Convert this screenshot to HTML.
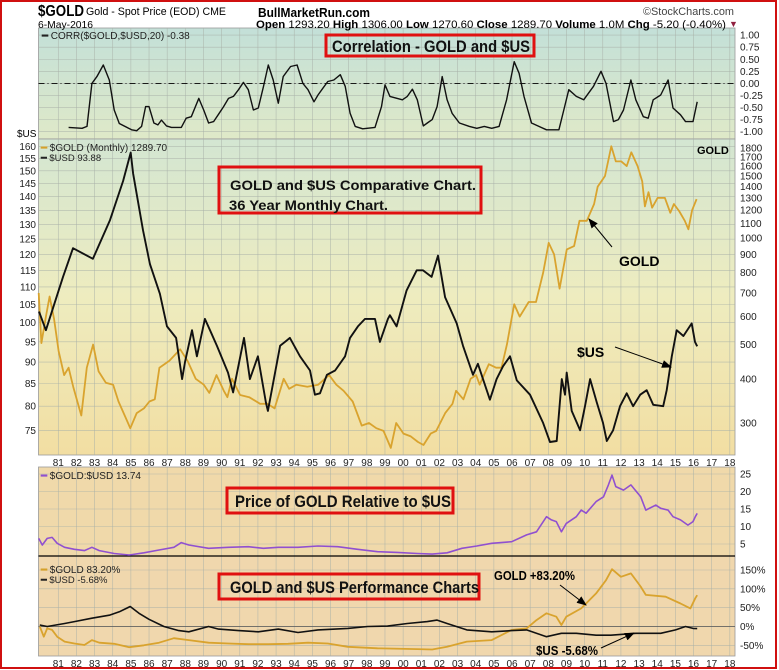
<!DOCTYPE html>
<html><head><meta charset="utf-8"><title>GOLD vs USD</title>
<style>
html,body{margin:0;padding:0;background:#fff;}
svg{display:block;font-family:"Liberation Sans",Arial,sans-serif;}
</style></head>
<body>
<svg id="chart" width="779" height="670" viewBox="0 0 779 670" xmlns="http://www.w3.org/2000/svg">
<defs>
<linearGradient id="gCorr" x1="0" y1="0" x2="0" y2="1"><stop offset="0" stop-color="#c3e0d8"/><stop offset="1" stop-color="#dfe9c8"/></linearGradient>
<linearGradient id="gMain" x1="0" y1="0" x2="0" y2="1"><stop offset="0" stop-color="#d3e6d2"/><stop offset="0.5" stop-color="#eeecbf"/><stop offset="1" stop-color="#f2dea2"/></linearGradient>
<marker id="ah" markerWidth="10" markerHeight="8" refX="9" refY="4" orient="auto"><path d="M0,0 L10,4 L0,8 z" fill="#000"/></marker>
</defs>
<rect x="0" y="0" width="779" height="670" fill="#fff"/>
<g id="bg"></g>
<g id="grid"></g>
<g id="series"></g>
<g id="axes"></g>
<rect x="1" y="1" width="775" height="667" fill="none" stroke="#d01010" stroke-width="2"/>

<text x="38" y="16" font-size="16" font-weight="bold" textLength="46" lengthAdjust="spacingAndGlyphs">$GOLD</text>
<text x="86" y="15" font-size="11" textLength="140" lengthAdjust="spacingAndGlyphs">Gold - Spot Price (EOD) CME</text>
<text x="38" y="28" font-size="10.5" textLength="55" lengthAdjust="spacingAndGlyphs">6-May-2016</text>
<text x="258" y="17" font-size="13" font-weight="bold" textLength="112" lengthAdjust="spacingAndGlyphs">BullMarketRun.com</text>
<text x="256" y="28" font-size="11" textLength="470" lengthAdjust="spacingAndGlyphs"><tspan font-weight="bold">Open</tspan> 1293.20 <tspan font-weight="bold">High</tspan> 1306.00 <tspan font-weight="bold">Low</tspan> 1270.60 <tspan font-weight="bold">Close</tspan> 1289.70 <tspan font-weight="bold">Volume</tspan> 1.0M <tspan font-weight="bold">Chg</tspan> -5.20 (-0.40%)</text>
<text x="729" y="27" font-size="9" fill="#902040">▼</text>
<text x="643" y="15" font-size="11" fill="#444" textLength="91" lengthAdjust="spacingAndGlyphs">©StockCharts.com</text>

<text x="42" y="39" font-size="10" fill="#222"><tspan font-weight="bold">━</tspan> CORR($GOLD,$USD,20) -0.38</text>
<text x="17" y="137" font-size="10">$US</text>
<text x="41" y="151" font-size="10" fill="#222"><tspan fill="#d4a02a" font-weight="bold">━</tspan> $GOLD (Monthly) 1289.70</text>
<text x="41" y="161" font-size="9.5" fill="#222"><tspan font-weight="bold">━</tspan> $USD 93.88</text>
<text x="697" y="154" font-size="11" font-weight="bold">GOLD</text>
<text x="41" y="479" font-size="10" fill="#222"><tspan fill="#9050d0" font-weight="bold">━</tspan> $GOLD:$USD 13.74</text>
<text x="41" y="573" font-size="10" fill="#222"><tspan fill="#d4a02a" font-weight="bold">━</tspan> $GOLD 83.20%</text>
<text x="41" y="583" font-size="9.5" fill="#222"><tspan font-weight="bold">━</tspan> $USD -5.68%</text>

<g>
<rect x="326" y="35" width="208" height="21" fill="none" stroke="#e01010" stroke-width="3"/>
<text x="332" y="52" font-size="17" font-weight="bold" fill="#111" textLength="198" lengthAdjust="spacingAndGlyphs">Correlation - GOLD and $US</text>
</g>
<g>
<rect x="219" y="167" width="262" height="46" fill="none" stroke="#e01010" stroke-width="3"/>
<text x="230" y="190" font-size="14" font-weight="bold" fill="#111" textLength="246" lengthAdjust="spacingAndGlyphs">GOLD and $US Comparative Chart.</text>
<text x="229" y="210" font-size="14" font-weight="bold" fill="#111" textLength="159" lengthAdjust="spacingAndGlyphs">36 Year Monthly Chart.</text>
</g>
<text x="619" y="266" font-size="14" font-weight="bold">GOLD</text>
<line x1="612" y1="247" x2="589" y2="219" stroke="#000" stroke-width="1" marker-end="url(#ah)"/>
<text x="577" y="357" font-size="14" font-weight="bold">$US</text>
<line x1="615" y1="347" x2="671" y2="367" stroke="#000" stroke-width="1" marker-end="url(#ah)"/>
<g>
<rect x="227" y="488" width="226" height="25" fill="none" stroke="#e01010" stroke-width="3"/>
<text x="235" y="507" font-size="17" font-weight="bold" fill="#111" textLength="216" lengthAdjust="spacingAndGlyphs">Price of GOLD Relative to $US</text>
</g>
<g>
<rect x="219" y="574" width="260" height="25" fill="none" stroke="#e01010" stroke-width="3"/>
<text x="230" y="593" font-size="17" font-weight="bold" fill="#111" textLength="249" lengthAdjust="spacingAndGlyphs">GOLD and $US Performance Charts</text>
</g>
<text x="494" y="580" font-size="13" font-weight="bold" textLength="81" lengthAdjust="spacingAndGlyphs">GOLD +83.20%</text>
<line x1="560" y1="585" x2="586" y2="605" stroke="#000" stroke-width="1" marker-end="url(#ah)"/>
<text x="536" y="655" font-size="13" font-weight="bold" textLength="62" lengthAdjust="spacingAndGlyphs">$US -5.68%</text>
<line x1="601" y1="648" x2="634" y2="633" stroke="#000" stroke-width="1" marker-end="url(#ah)"/>
</svg>
<script>
// ---------- data ----------
var corrDates=[1981.75,1982.49,1982.76,1983.03,1983.31,1983.66,1983.99,1984.26,1984.54,1985.22,1985.5,1985.77,1985.99,1986.18,1986.45,1986.67,1986.86,1987.14,1987.41,1987.96,1988.23,1988.51,1988.92,1989.19,1989.46,1989.74,1990.01,1990.29,1990.56,1990.83,1991.11,1991.38,1991.65,1991.93,1992.2,1992.48,1992.75,1993.02,1993.3,1993.57,1993.98,1994.34,1994.66,1994.94,1995.27,1995.49,1995.76,1996.03,1996.36,1996.72,1996.99,1997.26,1997.54,1997.95,1998.63,1998.99,1999.18,1999.45,1999.86,2000.14,2000.41,2000.69,2000.96,2001.29,2001.51,2001.78,2002.05,2002.33,2002.6,2002.88,2003.28,2003.83,2004.24,2004.65,2005.06,2005.47,2005.88,2006.3,2006.57,2006.84,2007.25,2007.66,2008.08,2008.76,2009.03,2009.31,2009.72,2010.13,2010.67,2011.08,2011.36,2011.77,2012.04,2012.32,2012.73,2013.0,2013.41,2013.68,2013.96,2014.37,2014.78,2015.05,2015.46,2015.74,2016.15,2016.38];
var corrValues=[-0.91,-0.93,-0.89,0.00,0.14,0.38,0.07,-0.55,-0.83,-0.96,-0.98,-0.89,-0.48,-0.48,-0.82,-0.86,-0.76,-0.88,-0.91,-0.91,-0.72,-0.69,-0.31,-0.55,-0.82,-0.79,-0.64,-0.48,-0.31,-0.27,-0.13,0.02,-0.13,-0.55,-0.51,-0.07,0.38,0.07,-0.41,0.14,0.35,0.38,0.00,-0.13,-0.38,-0.24,-0.10,0.04,0.07,0.18,-0.06,-0.62,-0.89,-0.94,-0.91,-0.48,-0.03,-0.27,-0.31,-0.34,-0.27,-0.12,-0.34,-0.88,-0.82,-0.75,-0.48,0.14,-0.34,-0.62,-0.82,-0.89,-0.93,-0.89,-0.93,-0.89,-0.34,0.45,0.21,-0.27,-0.82,-0.89,-0.96,-0.96,-0.55,-0.13,-0.27,-0.34,-0.06,0.25,0.00,-0.79,-0.75,-0.55,0.07,-0.34,-0.69,-0.72,-0.34,-0.24,0.07,-0.51,-0.65,-0.79,-0.79,-0.38];

var goldDates=[1980.1,1980.25,1980.5,1980.7,1980.95,1981.2,1981.5,1981.75,1982.0,1982.45,1982.75,1983.1,1983.4,1983.8,1984.2,1984.5,1984.9,1985.15,1985.5,1985.9,1986.2,1986.5,1986.75,1987.3,1987.9,1988.3,1988.75,1989.2,1989.5,1989.9,1990.3,1990.5,1990.75,1991.2,1991.7,1992.3,1992.7,1993.1,1993.6,1993.9,1994.3,1994.9,1995.5,1996.1,1996.5,1996.9,1997.4,1997.9,1998.3,1998.7,1999.1,1999.5,1999.8,2000.2,2000.6,2001.0,2001.3,2001.7,2002.0,2002.5,2002.9,2003.1,2003.5,2003.9,2004.2,2004.4,2004.9,2005.3,2005.6,2005.9,2006.3,2006.6,2007.1,2007.5,2007.9,2008.2,2008.5,2008.8,2009.2,2009.6,2009.9,2010.3,2010.7,2010.9,2011.3,2011.65,2011.9,2012.2,2012.5,2012.75,2013.1,2013.35,2013.5,2013.7,2013.9,2014.2,2014.6,2014.9,2015.1,2015.4,2015.7,2015.9,2016.1,2016.35];
var goldValues=[700,505,600,684,590,480,410,430,380,315,430,500,420,390,385,345,310,290,320,330,345,350,430,450,485,450,400,385,365,410,370,355,400,360,355,340,340,330,400,375,385,380,385,410,385,370,345,295,300,290,285,255,300,280,275,265,260,280,285,320,340,370,350,400,410,385,440,430,430,500,650,600,660,660,800,970,900,720,930,950,1120,1120,1250,1400,1500,1820,1650,1650,1600,1750,1600,1450,1230,1350,1220,1300,1300,1180,1250,1190,1120,1060,1200,1290];

var usdDates=[1980.12,1980.5,1981.44,1981.99,1983.09,1984.03,1984.75,1985.17,1985.3,1985.85,1986.23,1986.78,1987.17,1987.67,1988.0,1988.16,1988.55,1988.82,1989.26,1989.54,1989.92,1990.53,1990.81,1991.41,1991.74,1992.18,1992.62,1992.73,1993.4,1993.67,1993.94,1994.5,1995.05,1995.32,1995.6,1995.98,1996.43,1996.98,1997.25,1997.69,1998.08,1998.63,1998.9,1999.34,1999.45,1999.82,2000.37,2000.93,2001.27,2001.75,2002.1,2002.49,2003.13,2003.48,2004.03,2004.3,2004.96,2005.33,2005.68,2006.07,2006.44,2007.17,2007.89,2008.27,2008.64,2008.92,2009.1,2009.19,2009.47,2009.93,2010.2,2010.48,2010.85,2011.19,2011.4,2011.75,2012.13,2012.5,2012.85,2013.24,2013.6,2013.96,2014.51,2014.7,2014.98,2015.25,2015.62,2016.08,2016.26,2016.38];
var usdValues=[103,98,113,122,118.6,131.5,146,157.5,149,128,117,108,99,96,86,90,98,91.4,101,98,94,87.5,83,96,86,91.4,80.8,79,94,95,96,91.4,88,82.5,82.8,87,88,91.4,96,99,101,101,95,101,102,99,109,115,115,113,119.6,107,99.8,94,87,89.6,81.4,86,89,91.4,85.7,82.5,76.5,72.7,72.9,86,82.5,87.5,79,75,80,86,80.8,76.5,72.9,75,80,82.8,80,82.5,83.5,80.3,80,83.5,91.4,98,96.5,99.8,95,93.88];

var ratioDates=[1980.1,1980.3,1980.57,1980.84,1981.12,1981.53,1982.07,1982.62,1983.03,1983.44,1984.26,1985.09,1985.9,1986.73,1987.55,1987.96,1988.37,1989.46,1990.56,1991.65,1992.48,1993.3,1994.39,1995.49,1996.58,1997.67,1998.77,1999.86,2000.96,2001.78,2002.6,2003.42,2004.24,2005.06,2006.16,2006.98,2007.53,2008.08,2008.35,2008.62,2008.9,2009.17,2009.72,2009.99,2010.26,2010.81,2011.22,2011.49,2011.69,2011.9,2012.32,2012.73,2013.27,2013.55,2014.1,2014.37,2014.78,2015.05,2015.46,2015.87,2016.15,2016.28,2016.38];
var ratioValues=[6.6,4.7,6.6,6.9,5.2,4.05,3.5,3.1,4.05,3.1,2.3,1.86,2.5,3.3,4.05,5.4,4.7,3.76,4.05,4.24,3.76,4.05,4.05,4.43,4.24,3.5,2.8,2.6,2.3,2.1,2.5,3.76,4.43,5.2,5.67,7.6,8.5,12.8,11.9,11.4,8.5,10.9,12.8,14.7,13.8,17.1,18.5,21.9,24.7,21.4,20.4,21.9,18.5,14.7,16.1,15.2,14.7,12.8,11.9,10.4,11.4,12.8,13.74];

var perfGoldDates=[1980.16,1980.38,1980.57,1980.84,1981.12,1981.53,1982.07,1982.62,1983.03,1983.44,1984.26,1985.09,1985.9,1986.73,1987.55,1988.37,1989.46,1990.56,1991.65,1992.75,1993.84,1994.94,1996.03,1997.13,1998.77,2000.96,2001.78,2002.6,2003.69,2005.06,2006.16,2006.98,2007.53,2008.08,2008.62,2008.9,2009.17,2009.99,2010.81,2011.36,2011.69,2012.18,2012.73,2013.27,2013.55,2014.64,2015.46,2016.01,2016.28,2016.38];
var perfGoldValues=[0,-27,-5,-9,-27,-40,-45,-49,-36,-43,-46,-55,-50,-43,-31,-36,-43,-45,-47,-47,-46,-43,-45,-54,-58,-60,-61,-54,-40,-36,-9,-5,17,35,26,4,26,48,88,123,152,132,141,106,84,79,61,48,75,83.2];
var perfUsdDates=[1980.16,1980.57,1981.53,1982.07,1983.03,1983.99,1984.54,1985.14,1985.63,1986.18,1987.0,1987.82,1988.37,1989.46,1990.01,1991.11,1992.2,1993.3,1994.39,1995.49,1997.13,1998.22,1999.32,2000.41,2001.51,2002.05,2002.6,2003.69,2005.06,2006.16,2006.98,2008.08,2008.9,2009.72,2010.81,2011.63,2013.0,2014.37,2015.19,2015.74,2016.15,2016.38];
var perfUsdValues=[4,0,8,13,22,30,39,53,35,19,0,-11,-14,0,-7,-11,-14,-7,-16,-9,-5,0,1,8,13,17,8,-9,-14,-11,-9,-27,-18,-18,-23,-23,-18,-18,-9,0,-5,-5.68];

var yearLabels=['81','82','83','84','85','86','87','88','89','90','91','92','93','94','95','96','97','98','99','00','01','02','03','04','05','06','07','08','09','10','11','12','13','14','15','16','17','18'];
var corrTicks=[1,0.75,0.5,0.25,0,-0.25,-0.5,-0.75,-1];
var usdTicks=[160,155,150,145,140,135,130,125,120,115,110,105,100,95,90,85,80,75];
var goldTicks=[1800,1700,1600,1500,1400,1300,1200,1100,1000,900,800,700,600,500,400,300];
var ratioTicks=[25,20,15,10,5];
var perfTicks=[150,100,50,0,-50];

// ---------- layout & scales ----------
var L=38.5,R=735;
function xT(t){return 130.7+(t-1985.17)*18.15;}
function yCorr(v){return 83.4-v*48.3;}
function yUsd(v){return 146.7+862*Math.log10(160/v);}
function yGold(v){return 148+353.4*Math.log10(1800/v);}
function yRatio(v){return 561.5-v*3.5;}
function yPerf(v){return 626.5-v*0.3767;}
var NS='http://www.w3.org/2000/svg';
function mk(tag,attrs,parent){var e=document.createElementNS(NS,tag);for(var k in attrs)e.setAttribute(k,attrs[k]);parent.appendChild(e);return e;}
var bg=document.getElementById('bg'),grid=document.getElementById('grid'),ser=document.getElementById('series'),ax=document.getElementById('axes');

var panels=[[28,139,'url(#gCorr)','corr-panel'],[139,455,'url(#gMain)','main-panel'],[467,556,'#f0d9aa','ratio-panel'],[556,656,'#f0d7ad','perf-panel']];
panels.forEach(function(p){
  var r=mk('rect',{x:L,y:p[0],width:R-L,height:p[1]-p[0],fill:p[2],stroke:'#9a9a9a','stroke-width':0.8},bg);
  
  
});

for(var i=0;i<yearLabels.length;i++){
  var gx=xT(1981+i+0.18);
  [[28,139],[139,455],[467,656]].forEach(function(s){
    mk('line',{x1:gx,x2:gx,y1:s[0],y2:s[1],stroke:'#a8b0a8','stroke-width':0.6,opacity:0.8},grid);
  });
  [462,663].forEach(function(yy){
    var t=mk('text',{x:gx,y:yy+4,'font-size':10,'text-anchor':'middle',fill:'#222'},ax);
    t.textContent=yearLabels[i];
    
    
  });
}
function hTicks(ticks,fy,fmt,side,y0,y1){
  ticks.forEach(function(v){
    var y=fy(v);
    if(y>y0&&y<y1) mk('line',{x1:L,x2:R,y1:y,y2:y,stroke:'#a8b0a8','stroke-width':0.6,opacity:0.8},grid);
    var t=mk('text',{x:side=='r'?R+5:36,y:y+3.5,'font-size':10,'text-anchor':side=='r'?'start':'end',fill:'#222'},ax);
    t.textContent=fmt(v);
    
    
  });
}
hTicks(corrTicks,yCorr,function(v){return v.toFixed(2);},'r',28,139);
hTicks(usdTicks,yUsd,function(v){return ''+v;},'l',139,455);
hTicks(goldTicks,yGold,function(v){return ''+v;},'r',-1,-1);
hTicks(ratioTicks,yRatio,function(v){return ''+v;},'r',467,556);
hTicks(perfTicks,yPerf,function(v){return v+'%';},'r',556,656);

mk('line',{x1:L,x2:R,y1:yCorr(0),y2:yCorr(0),stroke:'#000','stroke-width':0.9,'stroke-dasharray':'6,3,1,3'},grid);
mk('line',{x1:L,x2:R,y1:556,y2:556,stroke:'#000','stroke-width':1.3},grid);
mk('line',{x1:L,x2:R,y1:yPerf(0),y2:yPerf(0),stroke:'#555','stroke-width':0.8},grid);

function line(dates,vals,fy,color,w,name){
  var d='';
  for(var i=0;i<dates.length;i++){d+=(i?'L':'M')+xT(dates[i]).toFixed(1)+','+fy(vals[i]).toFixed(1);}
  var p=mk('path',{d:d,fill:'none',stroke:color,'stroke-width':w,'stroke-linejoin':'round'},ser);
  
  
}
line(corrDates,corrValues,yCorr,'#111',1.4,'corr-line');
line(goldDates,goldValues,yGold,'#d9a32e',1.8,'gold-price-line');
line(usdDates,usdValues,yUsd,'#111',1.9,'usd-price-line');
line(ratioDates,ratioValues,yRatio,'#9050d0',1.6,'gold-usd-ratio-line');
line(perfGoldDates,perfGoldValues,yPerf,'#d9a32e',1.8,'gold-performance-line');
line(perfUsdDates,perfUsdValues,yPerf,'#111',1.6,'usd-performance-line');
</script>
</body></html>
